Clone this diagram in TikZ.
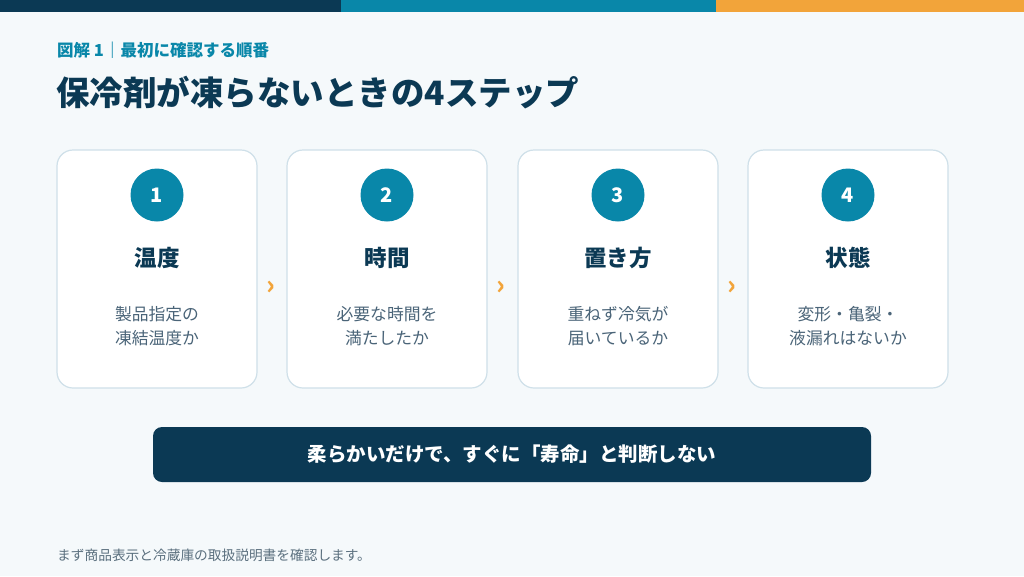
\documentclass[tikz,border=0pt]{standalone}
\usepackage{fontspec}
\setmainfont{Noto Sans CJK JP}
\definecolor{navy}{HTML}{0B3954}
\definecolor{teal}{HTML}{0987A9}
\definecolor{orng}{HTML}{F2A43A}
\definecolor{bgc}{HTML}{F5F9FB}
\definecolor{cardline}{HTML}{CFE0E9}
\definecolor{desc}{HTML}{4A6478}
\definecolor{foot}{HTML}{5A6F7E}
\tikzset{
  card/.style={draw=cardline, line width=1.2pt, fill=white, rounded corners=16pt, minimum width=200pt, minimum height=238pt, inner sep=0pt},
  numc/.style={circle, fill=teal, minimum size=53pt, inner sep=0pt, text=white, font=\fontsize{20}{22}\selectfont\bfseries},
  ctitle/.style={text=navy, font=\fontsize{22.5}{26}\selectfont\bfseries},
  cdesc/.style={text=desc, align=center, font=\fontsize{16.8}{24.5}\selectfont},
  chev/.style={text=orng, font=\fontsize{26}{26}\selectfont\bfseries},
}
\begin{document}
\begin{tikzpicture}[x=1pt,y=-1pt]
\useasboundingbox (0,0) rectangle (1024,576);
\fill[bgc] (0,0) rectangle (1024,576);
\fill[navy] (0,0) rectangle (341,12);
\fill[teal] (341,0) rectangle (716,12);
\fill[orng] (716,0) rectangle (1024,12);
\node[anchor=west, text=teal, font=\fontsize{16.5}{18}\selectfont\bfseries, inner sep=0pt] (kicker) at (57,50) {図解 1｜最初に確認する順番};
\node[anchor=west, text=navy, font=\fontsize{33.5}{36}\selectfont\bfseries, inner sep=0pt] (title) at (56,93) {保冷剤が凍らないときの4ステップ};
\foreach \i/\x/\t/\d in {1/157/温度/{製品指定の\\凍結温度か}, 2/387/時間/{必要な時間を\\満たしたか}, 3/618/置き方/{重ねず冷気が\\届いているか}, 4/848/状態/{変形・亀裂・\\液漏れはないか}}{
  \node[card] (card\i) at (\x,269) {};
  \node[numc] (num\i) at (\x,195) {\i};
  \node[ctitle] (ct\i) at (\x,258) {\t};
  \node[cdesc] (cd\i) at (\x,326) {\d};
}
\node[chev] (ch1) at (271,288) {›};
\node[chev] (ch2) at (501,288) {›};
\node[chev] (ch3) at (732,288) {›};
\node[fill=navy, rounded corners=9pt, minimum width=718pt, minimum height=55pt, text=white, font=\fontsize{19.5}{22}\selectfont\bfseries] (banner) at (512,454.5) {柔らかいだけで、すぐに「寿命」と判断しない};
\node[anchor=west, text=foot, font=\fontsize{13.7}{15}\selectfont, inner sep=0pt] (footer) at (57,555) {まず商品表示と冷蔵庫の取扱説明書を確認します。};
\end{tikzpicture}
\end{document}
